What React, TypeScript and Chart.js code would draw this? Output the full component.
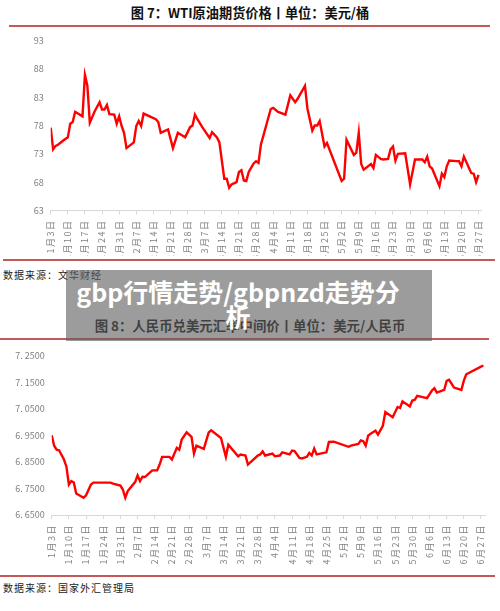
import React, { useEffect, useRef } from "react";
import { Chart, registerables } from "chart.js";

Chart.register(...registerables);

// ---------- data ----------
const wtiDates = [
  "1-3", "1-4", "1-5", "1-6", "1-8", "1-10", "1-11", "1-12", "1-13", "1-16",
  "1-17", "1-18", "1-19", "1-21", "1-23", "1-24", "1-25", "1-26", "1-27", "1-29",
  "1-30", "1-31", "2-1", "2-2", "2-3", "2-6", "2-7", "2-8", "2-9", "2-10",
  "2-15", "2-16", "2-17", "2-20", "2-22", "2-24", "2-27", "3-1", "3-2", "3-3",
  "3-4", "3-6", "3-9", "3-10", "3-12", "3-13", "3-15", "3-16", "3-17", "3-18",
  "3-20", "3-21", "3-22", "3-23", "3-24", "3-25", "3-27", "3-28", "3-29", "3-30",
  "3-31", "4-3", "4-4", "4-6", "4-9", "4-11", "4-13", "4-14", "4-17", "4-18",
  "4-20", "4-21", "4-22", "4-23", "4-25", "4-26", "5-2", "5-3", "5-4", "5-7",
  "5-8", "5-9", "5-10", "5-11", "5-14", "5-15", "5-16", "5-18", "5-19", "5-21",
  "5-22", "5-23", "5-24", "5-25", "5-28", "5-30", "6-1", "6-4", "6-5", "6-6",
  "6-7", "6-8", "6-11", "6-12", "6-13", "6-14", "6-15", "6-18", "6-19", "6-20",
  "6-21", "6-24", "6-25", "6-26", "6-27",
];
const wtiPrices = [
  77.6, 73.8, 74.4, 74.6, 75.3, 75.9, 78.3, 78.6, 80.4, 79.6,
  86.9, 85.0, 78.5, 80.5, 82.1, 80.8, 80.8, 81.6, 80.0, 79.9,
  78.3, 79.6, 77.9, 76.7, 74.0, 75.0, 77.9, 78.8, 77.9, 80.1,
  79.1, 78.6, 76.7, 77.3, 74.0, 76.7, 75.9, 77.7, 78.0, 79.9,
  79.1, 77.7, 75.8, 76.8, 75.9, 75.0, 68.6, 68.6, 67.0, 67.6,
  68.0, 69.8, 70.1, 68.3, 68.2, 69.8, 71.3, 71.7, 71.4, 74.7,
  76.2, 80.9, 81.1, 80.4, 79.9, 83.3, 82.1, 82.7, 85.0, 81.0,
  77.1, 78.0, 78.0, 78.8, 74.3, 74.9, 68.2, 68.6, 75.5, 72.8,
  73.2, 76.7, 71.2, 70.2, 71.2, 70.5, 72.8, 72.1, 72.0, 72.1,
  73.8, 74.3, 71.8, 73.0, 73.1, 67.6, 72.0, 72.0, 71.5, 72.5,
  70.8, 70.4, 67.3, 69.5, 68.9, 70.8, 71.8, 71.7, 71.7, 70.8,
  72.5, 69.6, 69.5, 68.0, 69.3,
];

const cnyDates = [
  "1-3", "1-4", "1-5", "1-6", "1-8", "1-9", "1-10", "1-11", "1-12", "1-13",
  "1-16", "1-17", "1-19", "1-20", "1-27", "1-28", "1-31", "2-1", "2-2", "2-3",
  "2-6", "2-7", "2-8", "2-9", "2-10", "2-13", "2-15", "2-16", "2-17", "2-20",
  "2-21", "2-23", "2-24", "2-25", "2-27", "3-1", "3-2", "3-3", "3-6", "3-8",
  "3-9", "3-13", "3-15", "3-16", "3-20", "3-21", "3-23", "3-24", "3-28", "3-29",
  "3-30", "3-31", "4-3", "4-4", "4-6", "4-7", "4-10", "4-11", "4-12", "4-14",
  "4-15", "4-17", "4-18", "4-19", "4-20", "4-21", "4-25", "4-26", "4-28", "5-4",
  "5-5", "5-8", "5-9", "5-10", "5-11", "5-12", "5-13", "5-15", "5-16", "5-18",
  "5-19", "5-22", "5-24", "5-25", "5-26", "5-29", "5-30", "5-31", "6-1", "6-5",
  "6-7", "6-8", "6-9", "6-12", "6-13", "6-14", "6-16", "6-19", "6-20", "6-21",
  "6-27", "6-28",
];
const cnyRates = [
  6.95, 6.911, 6.896, 6.894, 6.859, 6.832, 6.765, 6.778, 6.772, 6.731,
  6.715, 6.724, 6.765, 6.772, 6.772, 6.768, 6.761, 6.746, 6.715, 6.74,
  6.774, 6.799, 6.778, 6.794, 6.793, 6.818, 6.818, 6.84, 6.869, 6.869,
  6.859, 6.903, 6.896, 6.934, 6.961, 6.944, 6.881, 6.911, 6.899, 6.961,
  6.969, 6.94, 6.869, 6.915, 6.871, 6.878, 6.874, 6.84, 6.874, 6.878,
  6.89, 6.874, 6.881, 6.871, 6.874, 6.886, 6.878, 6.893, 6.891, 6.865,
  6.863, 6.869, 6.884, 6.874, 6.9, 6.878, 6.886, 6.925, 6.926, 6.907,
  6.911, 6.918, 6.931, 6.928, 6.911, 6.949, 6.956, 6.968, 6.953, 6.986,
  7.038, 7.018, 7.057, 7.053, 7.078, 7.059, 7.081, 7.084, 7.099, 7.09,
  7.119, 7.128, 7.111, 7.121, 7.155, 7.159, 7.13, 7.121, 7.156, 7.18,
  7.209, 7.213,
];

const weekTicks = [
  "1-3", "1-10", "1-17", "1-24", "1-31", "2-7", "2-14", "2-21", "2-28",
  "3-7", "3-14", "3-21", "3-28", "4-4", "4-11", "4-18", "4-25", "5-2",
  "5-9", "5-16", "5-23", "5-30", "6-6", "6-13", "6-20", "6-27",
];
const wtiYTicks = [63, 68, 73, 78, 83, 88, 93];
const cnyYTicks = [6.65, 6.75, 6.85, 6.95, 7.05, 7.15, 7.25];

const title1 = "图 7：WTI原油期货价格丨单位：美元/桶";
const title2 = "图 8：人民币兑美元汇率中间价丨单位：美元/人民币";
const source1 = "数据来源：文华财经";
const source2 = "数据来源：国家外汇管理局";
const overlayLine1 = "gbp行情走势/gbpnzd走势分";
const overlayLine2 = "析";

// ---------- helpers ----------
const BASE = Date.UTC(2023, 0, 3);
function dayOf(s: string): number {
  const [m, d] = s.split("-").map(Number);
  return (Date.UTC(2023, m - 1, d) - BASE) / 86400000;
}
function dayLabel(v: number): string {
  const dt = new Date(BASE + v * 86400000);
  return `${dt.getUTCMonth() + 1}月${dt.getUTCDate()}日`;
}

const tickFont = { family: '"Noto Sans CJK SC", "Noto Sans", sans-serif', size: 9 };
const CJK = '"Noto Sans CJK SC", "Noto Sans", sans-serif';

type Cfg = {
  dates: string[];
  values: number[];
  yTicks: number[];
  yFmt: (v: number) => string;
  xMax: number;
  yWidth: number;
  xHeight: number;
  padTop: number;
  padRight: number;
};

function makeChart(canvas: HTMLCanvasElement, c: Cfg) {
  return new Chart(canvas, {
    type: "line",
    data: {
      datasets: [
        {
          data: c.dates.map((d, i) => ({ x: dayOf(d), y: c.values[i] })),
          borderColor: "#ff0000",
          backgroundColor: "#ff0000",
          borderWidth: 2.4,
          pointRadius: 0,
          tension: 0,
          fill: false,
        },
      ],
    },
    options: {
      animation: false,
      responsive: false,
      devicePixelRatio: window.devicePixelRatio || 1,
      layout: { padding: { top: c.padTop, right: c.padRight, left: 0, bottom: 0 } },
      plugins: { legend: { display: false }, tooltip: { enabled: false } },
      scales: {
        x: {
          type: "linear",
          min: 0,
          max: c.xMax,
          afterBuildTicks: (s: any) => {
            s.ticks = weekTicks.map((t) => ({ value: dayOf(t) }));
          },
          afterFit: (s: any) => {
            s.height = c.xHeight;
            if (!s.__spaced) {
              const orig = s.drawLabels.bind(s);
              s.drawLabels = (area: any) => {
                const ctx = s.ctx;
                ctx.save();
                ctx.letterSpacing = "1.5px";
                orig(area);
                ctx.restore();
              };
              s.__spaced = true;
            }
          },
          grid: {
            display: true,
            drawOnChartArea: false,
            drawTicks: true,
            tickLength: 4,
            color: "#d9d9d9",
          },
          border: { display: true, color: "#d9d9d9", width: 1 },
          ticks: {
            autoSkip: false,
            minRotation: 90,
            maxRotation: 90,
            padding: 5,
            color: "#808080",
            font: tickFont,
            callback: (v: any) => dayLabel(Number(v)),
          },
        },
        y: {
          type: "linear",
          min: c.yTicks[0],
          max: c.yTicks[c.yTicks.length - 1],
          afterBuildTicks: (s: any) => {
            s.ticks = c.yTicks.map((v) => ({ value: v }));
          },
          afterFit: (s: any) => {
            s.width = c.yWidth;
          },
          grid: { display: false, drawTicks: false },
          border: { display: false },
          ticks: {
            padding: 7,
            color: "#808080",
            font: tickFont,
            callback: (v: any) => c.yFmt(Number(v)),
          },
        },
      },
    },
  } as any);
}

export default function App() {
  const ref1 = useRef<HTMLCanvasElement>(null);
  const ref2 = useRef<HTMLCanvasElement>(null);

  useEffect(() => {
    document.body.style.margin = "0";
    const c1 = makeChart(ref1.current!, {
      dates: wtiDates,
      values: wtiPrices,
      yTicks: wtiYTicks,
      yFmt: (v) => String(Math.round(v)),
      xMax: 176,
      yWidth: 50.7,
      xHeight: 45.5,
      padTop: 10.3,
      padRight: 19,
    });
    const c2 = makeChart(ref2.current!, {
      dates: cnyDates,
      values: cnyRates,
      yTicks: cnyYTicks,
      yFmt: (v) => v.toFixed(4).replace(".", ". "),
      xMax: 177,
      yWidth: 51.7,
      xHeight: 57,
      padTop: 13.7,
      padRight: 14.1,
    });
    return () => {
      c1.destroy();
      c2.destroy();
    };
  }, []);

  const abs = (s: React.CSSProperties): React.CSSProperties => ({ position: "absolute", ...s });
  const rule = (top: number, left: number, width: number) => (
    <div style={abs({ top, left, width, height: 2, background: "#c45a58" })} />
  );

  return (
    <div style={abs({ top: 0, left: 0, width: 500, height: 611, background: "#fff", overflow: "hidden" })}>
      <div
        style={abs({
          top: 5, left: 0, width: 500, textAlign: "center", fontFamily: CJK,
          fontWeight: 700, fontSize: 13.2, lineHeight: "16px", color: "#111",
        })}
      >
        {title1}
      </div>
      {rule(25, 9, 481)}
      <canvas ref={ref1} width={500} height={228} style={abs({ top: 28, left: 0, display: "block" })} />
      {rule(259, 3, 492)}
      <div
        style={abs({
          top: 269, left: 3, fontFamily: CJK, fontSize: 10, lineHeight: "12px",
          letterSpacing: 1, color: "#222",
        })}
      >
        {source1}
      </div>

      <div
        style={abs({
          top: 317, left: 0, width: 500, textAlign: "center", fontFamily: CJK,
          fontWeight: 700, fontSize: 13.4, lineHeight: "16px", color: "#111",
        })}
      >
        {title2}
      </div>
      {rule(338, 0, 489)}
      <canvas ref={ref2} width={500} height={230} style={abs({ top: 342, left: 0, display: "block" })} />
      {rule(575, 0, 495)}
      <div
        style={abs({
          top: 582, left: 3, fontFamily: CJK, fontSize: 10, lineHeight: "12px",
          letterSpacing: 1, color: "#222",
        })}
      >
        {source2}
      </div>

      <div style={abs({ top: 270, left: 66, width: 366, height: 71, background: "rgba(95,95,95,0.62)" })} />
      <div
        style={abs({
          top: 279, left: 66, width: 344, textAlign: "center", fontFamily: CJK,
          fontWeight: 700, fontSize: 25, lineHeight: "24.5px", color: "#fff",
        })}
      >
        {overlayLine1}
        <br />
        {overlayLine2}
      </div>
    </div>
  );
}
